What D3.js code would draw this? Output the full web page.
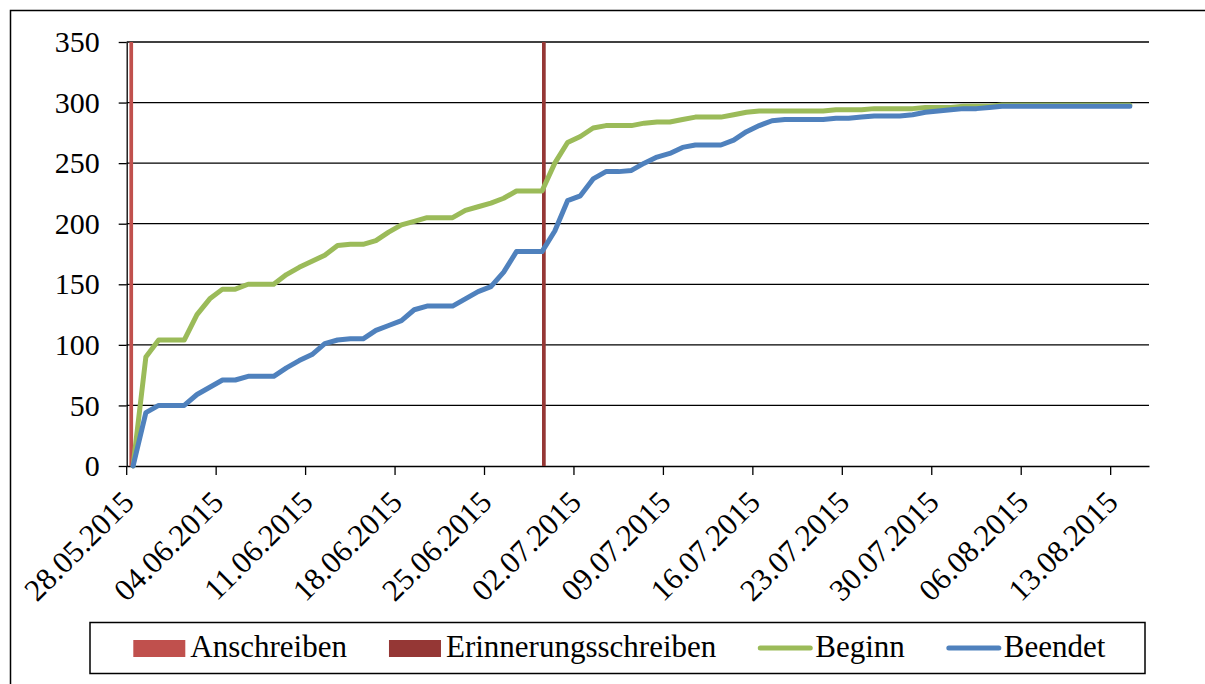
<!DOCTYPE html>
<html>
<head>
<meta charset="utf-8">
<script src="https://cdn.jsdelivr.net/npm/d3@7"></script>
<style>
  body { margin: 0; background: #fff; }
  svg { display: block; font-family: "Liberation Serif", "Times New Roman", serif; }
  .axis path, .axis line { stroke: #000; stroke-width: 1.3; }
  .axis text { fill: #000; }
</style>
</head>
<body>
<svg id="chart"></svg>
<script>
// first day of the survey, one category per day
const startDay = new Date(2015, 4, 28);
const dayCount = 80;

const tickLabels = ['28.05.2015', '04.06.2015', '11.06.2015', '18.06.2015', '25.06.2015', '02.07.2015',
  '09.07.2015', '16.07.2015', '23.07.2015', '30.07.2015', '06.08.2015', '13.08.2015'];

// letters sent (column series, full height)
const letterSeries = ['Anschreiben', 'Erinnerungsschreiben'];
const letterDays = ['28.05.2015', '29.06.2015'];
const letterValue = 350;

// cumulative counts per day
const beginn = [0, 90, 104, 104, 104, 125, 138, 146, 146, 150, 150, 150, 158, 164, 169, 174, 182, 183, 183, 186,
  193, 199, 202, 205, 205, 205, 211, 214, 217, 221, 227, 227, 227, 250, 267, 272, 279, 281, 281, 281,
  283, 284, 284, 286, 288, 288, 288, 290, 292, 293, 293, 293, 293, 293, 293, 294, 294, 294, 295, 295,
  295, 295, 296, 296, 296, 297, 297, 297, 298, 298, 298, 298, 298, 298, 298, 298, 298, 298, 298];
const beendet = [0, 44, 50, 50, 50, 59, 65, 71, 71, 74, 74, 74, 81, 87, 92, 101, 104, 105, 105, 112,
  116, 120, 129, 132, 132, 132, 138, 144, 148, 160, 177, 177, 177, 194, 219, 223, 237, 243, 243, 244,
  250, 255, 258, 263, 265, 265, 265, 269, 276, 281, 285, 286, 286, 286, 286, 287, 287, 288, 289, 289,
  289, 290, 292, 293, 294, 295, 295, 296, 297, 297, 297, 297, 297, 297, 297, 297, 297, 297, 297];

const colors = {
  Anschreiben: '#c0504d',
  Erinnerungsschreiben: '#953735',
  Beginn: '#9bbb59',
  Beendet: '#4f81bd'
};

const fmt = d3.timeFormat('%d.%m.%Y');
const days = d3.range(dayCount).map(i => fmt(d3.timeDay.offset(startDay, i)));

const width = 1205, height = 684;
const plot = {left: 126.7, right: 1149, top: 42, bottom: 466};

const svg = d3.select('#chart')
    .attr('width', width)
    .attr('height', height);

// outer frame, its right and bottom edge lie outside the picture
svg.append('rect')
    .attr('x', 10.5).attr('y', 10.5)
    .attr('width', 1400).attr('height', 1000)
    .attr('fill', 'none')
    .attr('stroke', '#000')
    .attr('stroke-width', 1.5);

const x = d3.scaleBand()
    .domain(days)
    .range([plot.left, plot.right]);

// clustered columns inside one day
const xSub = d3.scaleBand()
    .domain(letterSeries)
    .range([x.bandwidth() / 2 - 3.7, x.bandwidth() / 2 + 3.7]);

const y = d3.scaleLinear()
    .domain([0, 350])
    .range([plot.bottom, plot.top]);

// gridlines
svg.append('g')
    .selectAll('line')
    .data(y.ticks(7).filter(d => d > 0))
  .join('line')
    .attr('x1', plot.left)
    .attr('x2', plot.right)
    .attr('y1', d => y(d))
    .attr('y2', d => y(d))
    .attr('stroke', '#000')
    .attr('stroke-width', 1.3);

// y axis
svg.append('g')
    .attr('class', 'axis')
    .attr('transform', `translate(${plot.left},0)`)
    .call(d3.axisLeft(y).ticks(7).tickSize(8).tickPadding(19).tickSizeOuter(0))
    .attr('font-family', null)
    .attr('font-size', 30);

// x axis, ticks on the left edge of every 7th day
svg.append('g')
    .attr('class', 'axis')
    .attr('transform', `translate(0,${plot.bottom})`)
    .call(d3.axisBottom(x).tickValues(tickLabels).tickSize(9).tickSizeOuter(0))
    .attr('font-family', null)
    .attr('font-size', 31)
    .call(g => g.selectAll('.tick').attr('transform', d => `translate(${x(d)},0)`))
    .call(g => g.selectAll('text')
        .attr('y', 0).attr('dy', 0)
        .attr('transform', 'translate(9,38) rotate(-45)')
        .style('text-anchor', 'end'));

// letter columns
svg.append('g')
    .selectAll('rect')
    .data(letterSeries.map((s, i) => ({series: s, day: letterDays[i], value: letterValue})))
  .join('rect')
    .attr('x', d => x(d.day) + xSub(d.series))
    .attr('width', xSub.bandwidth())
    .attr('y', d => y(d.value))
    .attr('height', d => y(0) - y(d.value))
    .attr('fill', d => colors[d.series]);

const line = d3.line()
    .x((d, i) => x(days[i]) + x.bandwidth() / 2)
    .y(d => y(d));

[['Beginn', beginn], ['Beendet', beendet]].forEach(([name, values]) => {
  svg.append('path')
      .datum(values)
      .attr('d', line)
      .attr('fill', 'none')
      .attr('stroke', colors[name])
      .attr('stroke-width', 5)
      .attr('stroke-linejoin', 'round')
      .attr('stroke-linecap', 'round');
});

// legend
const legend = svg.append('g');
legend.append('rect')
    .attr('x', 90).attr('y', 622.5)
    .attr('width', 1055).attr('height', 51)
    .attr('fill', '#fff')
    .attr('stroke', '#000')
    .attr('stroke-width', 1.5);

const legendItems = [
  {name: 'Anschreiben', type: 'rect'},
  {name: 'Erinnerungsschreiben', type: 'rect'},
  {name: 'Beginn', type: 'line'},
  {name: 'Beendet', type: 'line'}
];

let lx = 133.3;
legendItems.forEach(item => {
  if (item.type === 'rect') {
    legend.append('rect')
        .attr('x', lx).attr('y', 640)
        .attr('width', 52).attr('height', 17)
        .attr('fill', colors[item.name]);
  } else {
    legend.append('line')
        .attr('x1', lx + 2).attr('x2', lx + 52)
        .attr('y1', 648).attr('y2', 648)
        .attr('stroke', colors[item.name])
        .attr('stroke-width', 5)
        .attr('stroke-linecap', 'round');
  }
  const t = legend.append('text')
      .attr('x', lx + 57)
      .attr('y', 657)
      .style('font-size', '31px')
      .text(item.name);
  lx += 57 + t.node().getComputedTextLength() + 42;
});
</script>
</body>
</html>
